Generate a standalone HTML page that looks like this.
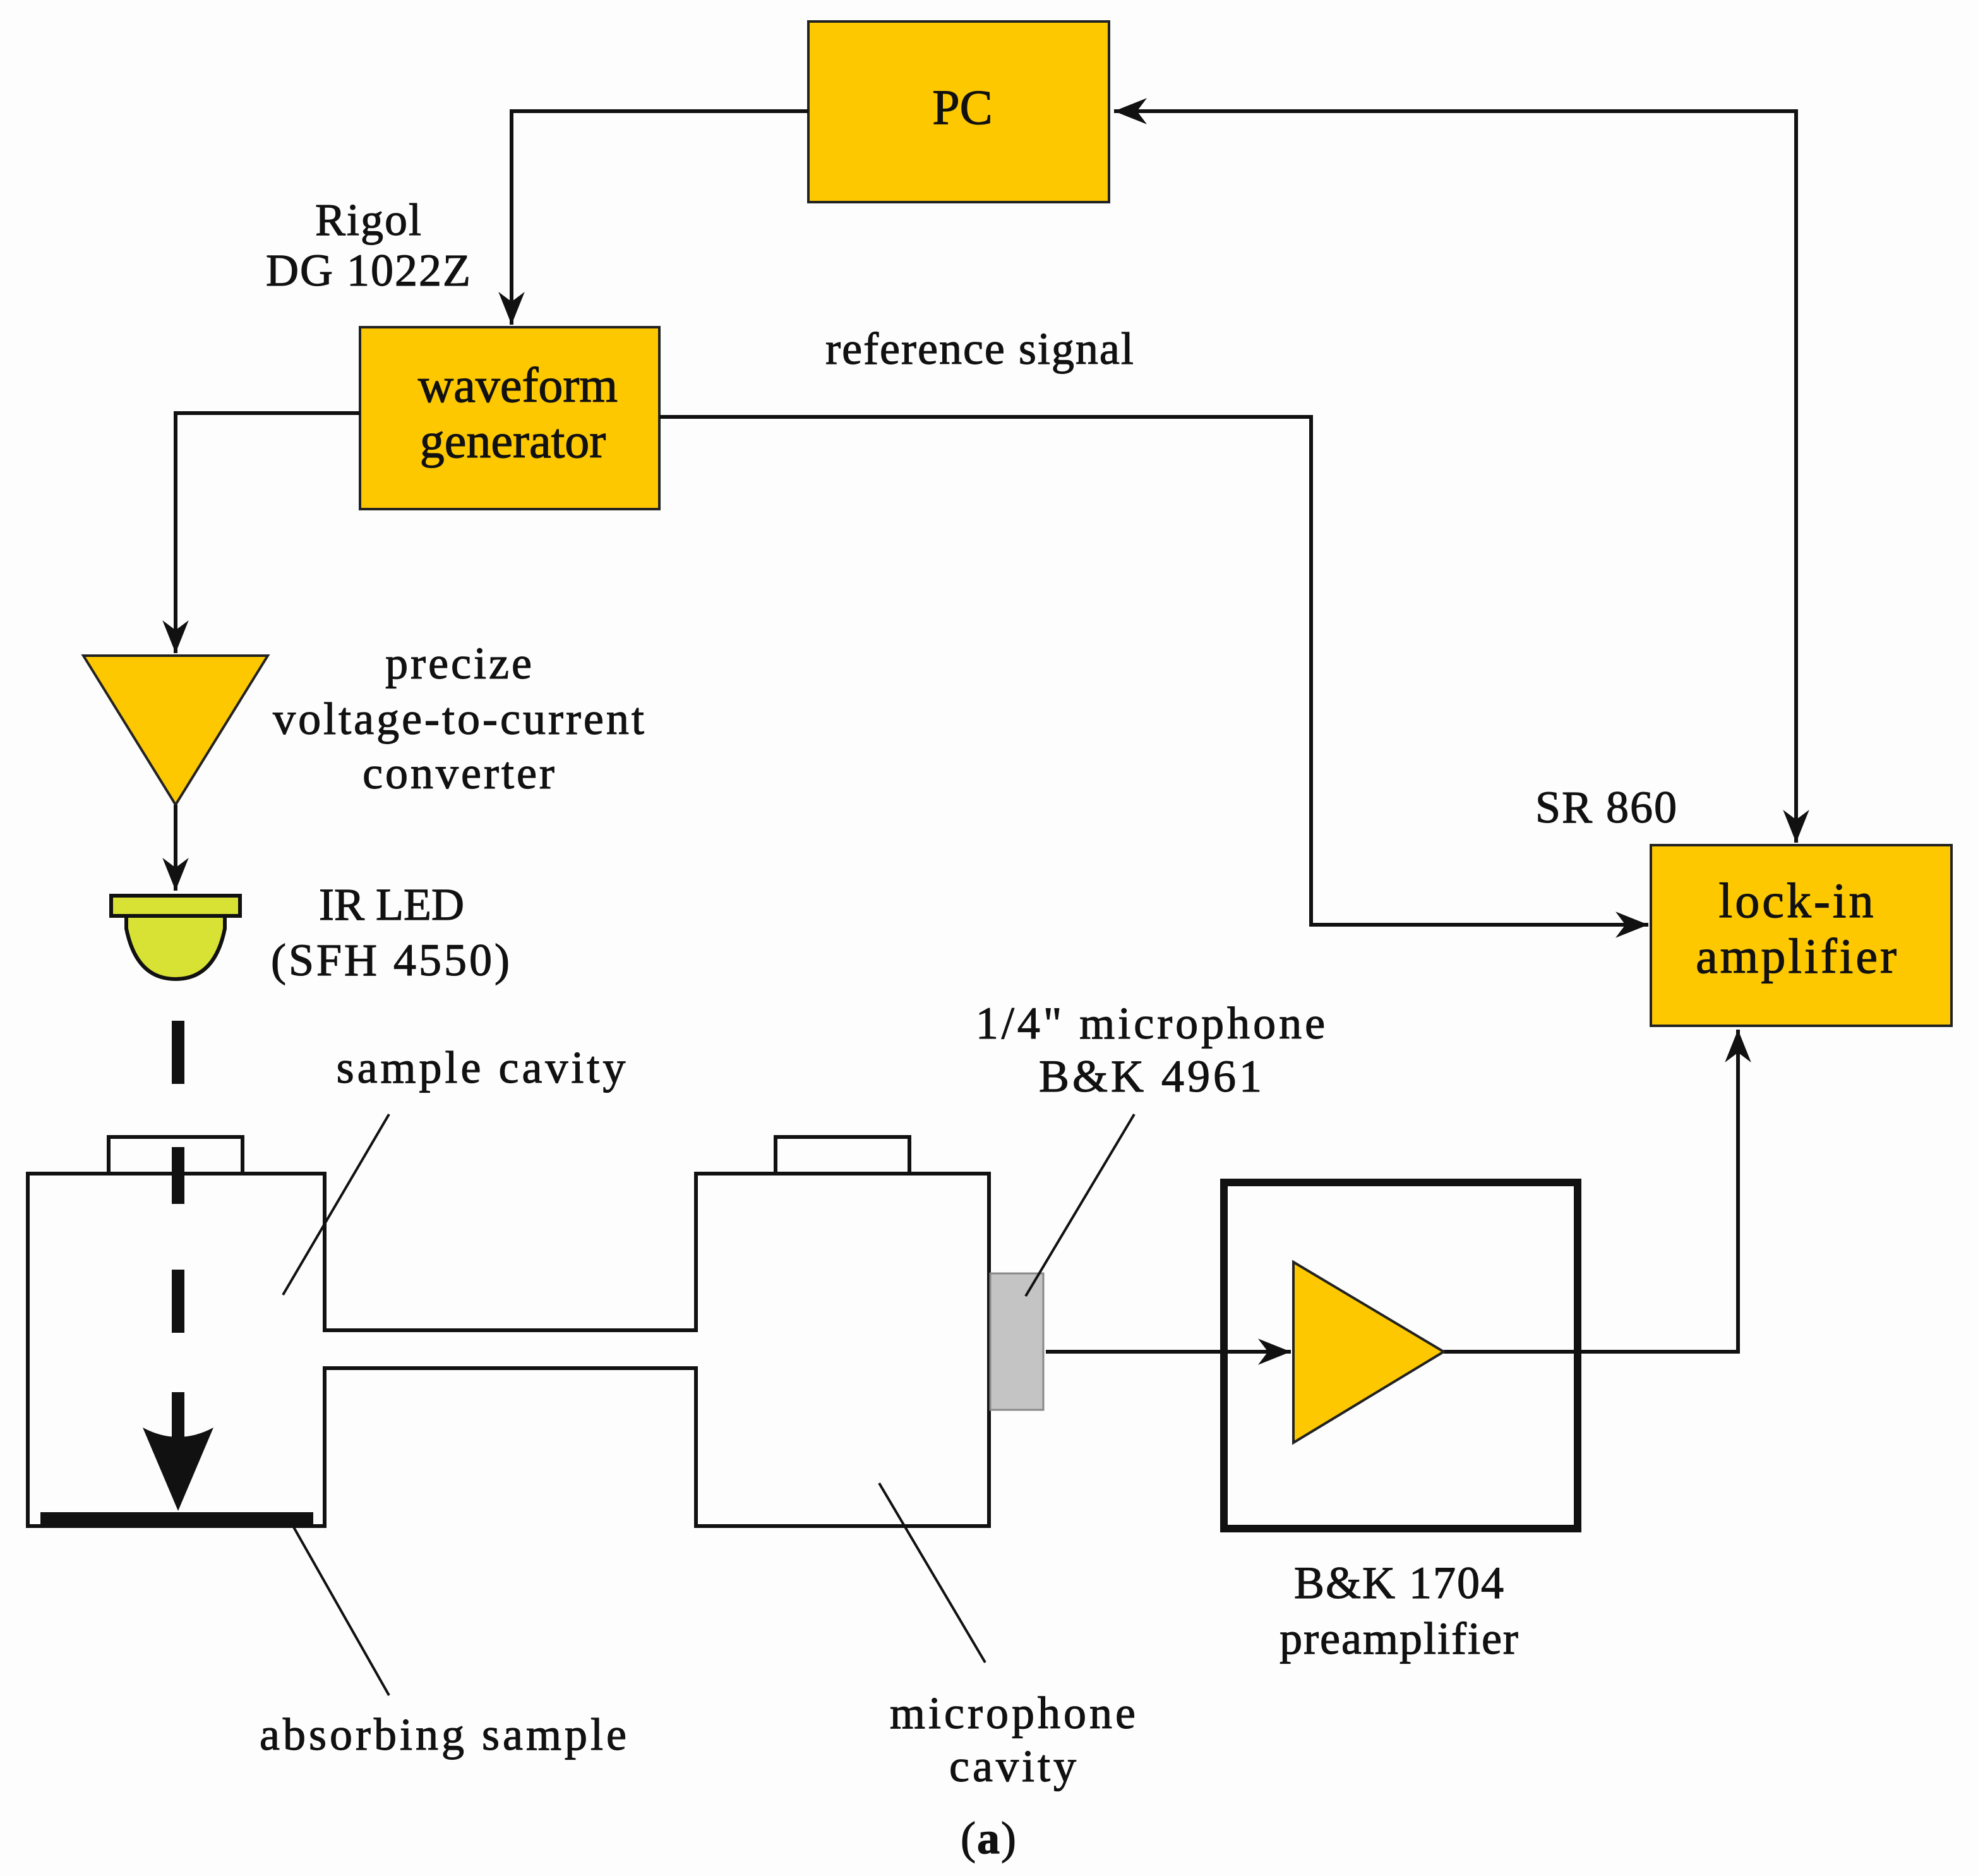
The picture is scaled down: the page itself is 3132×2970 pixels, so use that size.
<!DOCTYPE html>
<html><head><meta charset="utf-8"><style>
html,body{margin:0;padding:0;background:#fdfdfd;}
svg{display:block}
text{font-family:"Liberation Serif",serif;fill:#111;stroke:#111;stroke-width:0.6;}
</style></head><body>
<svg width="3132" height="2970" viewBox="0 0 1566 1485" xmlns="http://www.w3.org/2000/svg">
<defs>
<marker id="a" viewBox="0 0 10 10" refX="10" refY="5" markerWidth="26" markerHeight="26" markerUnits="userSpaceOnUse" orient="auto">
<path d="M0,1 L10,5 L0,9 L3,5 z" fill="#111"/></marker>
</defs>
<rect width="1566" height="1485" fill="#fdfdfd"/>
<g stroke="#222" stroke-width="2" fill="#fdc800">
<rect x="640" y="17" width="238" height="143"/>
<rect x="285" y="259" width="237" height="144"/>
<rect x="1307" y="669" width="238" height="143"/>
<polygon points="66,519 212,519 139,637"/>
</g>
<g font-size="39" text-anchor="middle">
<text x="762" y="98">PC</text>
<text x="410" y="318">waveform</text>
<text x="406" y="362">generator</text>
<text x="1423" y="726" letter-spacing="2">lock-in</text>
<text x="1423" y="770" letter-spacing="2">amplifier</text>
</g>
<g fill="none" stroke="#111" stroke-width="3">
<polyline points="640,88 405,88 405,257" marker-end="url(#a)"/>
<polyline points="1422,667 1422,88 882,88" marker-end="url(#a)"/>
<line x1="1422" y1="100" x2="1422" y2="667" marker-end="url(#a)"/>
<polyline points="285,327 139,327 139,517" marker-end="url(#a)"/>
<polyline points="522,330 1038,330 1038,732 1305,732" marker-end="url(#a)"/>
<line x1="139" y1="637" x2="139" y2="705" marker-end="url(#a)"/>
<line x1="828" y1="1070" x2="1022" y2="1070" marker-end="url(#a)"/>
<polyline points="1143,1070 1376,1070 1376,815" marker-end="url(#a)"/>
</g>
<path d="M100,725 L178,725 L178,735 Q170,775 139,775 Q108,775 100,735 Z" fill="#d8e235" stroke="#111" stroke-width="3"/>
<rect x="88" y="709" width="102" height="16" fill="#d8e235" stroke="#111" stroke-width="3"/>
<g fill="#111">
<rect x="136" y="808" width="10" height="50"/>
<rect x="136" y="908" width="10" height="45"/>
<rect x="136" y="1005" width="10" height="50"/>
<rect x="136" y="1102" width="10" height="40"/>
<path d="M113,1130 Q141,1145 169,1130 L141,1196 Z"/>
<rect x="32" y="1197" width="216" height="11"/>
</g>
<g fill="none" stroke="#111" stroke-width="3">
<rect x="86" y="900" width="106" height="29"/>
<path d="M22,929 L257,929 L257,1053 L551,1053 L551,929 L783,929 L783,1208 L551,1208 L551,1083 L257,1083 L257,1208 L22,1208 Z"/>
<rect x="614" y="900" width="106" height="29"/>
</g>
<rect x="784" y="1008" width="42" height="108" fill="#c4c4c4" stroke="#888" stroke-width="1.5"/>
<rect x="969" y="936" width="280" height="274" fill="none" stroke="#111" stroke-width="6"/>
<polygon points="1024,999 1143,1070 1024,1142" fill="#fdc800" stroke="#222" stroke-width="2"/>
<g stroke="#111" stroke-width="2">
<line x1="308" y1="882" x2="224" y2="1025"/>
<line x1="232" y1="1208" x2="308" y2="1342"/>
<line x1="898" y1="882" x2="812" y2="1026"/>
<line x1="696" y1="1174" x2="780" y2="1316"/>
</g>
<g font-size="36" text-anchor="middle" letter-spacing="1">
<text x="292" y="186">Rigol</text>
<text x="292" y="226">DG 1022Z</text>
<text x="776" y="288">reference signal</text>
<text x="364" y="537" letter-spacing="2">precize</text>
<text x="364" y="581" letter-spacing="2">voltage-to-current</text>
<text x="364" y="624" letter-spacing="2">converter</text>
<text x="1272" y="651">SR 860</text>
<text x="310" y="728" letter-spacing="0">IR LED</text>
<text x="310" y="772" letter-spacing="2">(SFH 4550)</text>
<text x="382" y="857" letter-spacing="2.5">sample cavity</text>
<text x="912" y="822" letter-spacing="2.5">1/4" microphone</text>
<text x="912" y="864" letter-spacing="2.5">B&amp;K 4961</text>
<text x="1108" y="1265">B&amp;K 1704</text>
<text x="1108" y="1309">preamplifier</text>
<text x="352" y="1385" letter-spacing="2.5">absorbing sample</text>
<text x="803" y="1368" letter-spacing="2.5">microphone</text>
<text x="803" y="1410" letter-spacing="2.5">cavity</text>
<text x="783" y="1467">(<tspan font-weight="bold">a</tspan>)</text>
</g>
</svg>
</body></html>
